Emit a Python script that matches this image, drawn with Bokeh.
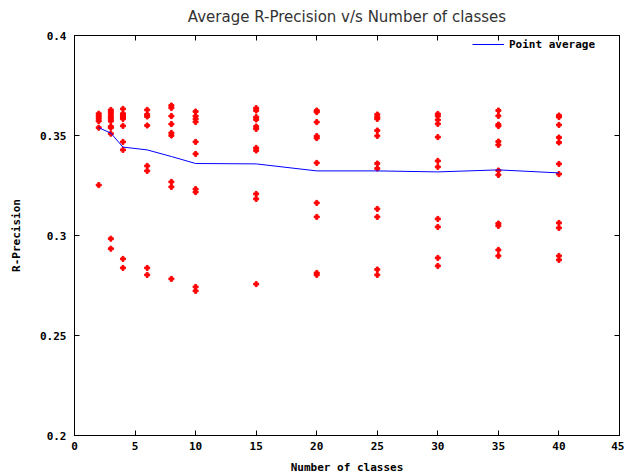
from bokeh.plotting import figure
from bokeh.models import LinearAxis, FixedTicker, Range1d, Legend, LegendItem
from bokeh.embed import file_html
from bokeh.resources import INLINE

# ---- data ----
classes = [2, 3, 4, 6, 8, 10, 15, 20, 25, 30, 35, 40]
rprec_2 = [0.3609, 0.3597, 0.3585, 0.3572, 0.3539, 0.3252]
rprec_3 = [0.3628, 0.3617, 0.3605, 0.3593, 0.3583, 0.3572, 0.3545, 0.3539, 0.3509, 0.2984, 0.2934]
rprec_4 = [0.3633, 0.3609, 0.3600, 0.3592, 0.3583, 0.3548, 0.3468, 0.3428, 0.2883, 0.2838]
rprec_6 = [0.3628, 0.3605, 0.3595, 0.3550, 0.3348, 0.3323, 0.2838, 0.2803]
rprec_8 = [0.3650, 0.3638, 0.3597, 0.3557, 0.3513, 0.3500, 0.3268, 0.3243, 0.2783]
rprec_10 = [0.3620, 0.3597, 0.3583, 0.3568, 0.3468, 0.3408, 0.3232, 0.3217, 0.2743, 0.2723]
rprec_15 = [0.3637, 0.3625, 0.3592, 0.3580, 0.3545, 0.3533, 0.3438, 0.3425, 0.3208, 0.3183, 0.2757]
rprec_20 = [0.3625, 0.3617, 0.3567, 0.3497, 0.3487, 0.3363, 0.3163, 0.3093, 0.2813, 0.2803]
rprec_25 = [0.3605, 0.3592, 0.3583, 0.3525, 0.3498, 0.3360, 0.3335, 0.3133, 0.3093, 0.2830, 0.2803]
rprec_30 = [0.3608, 0.3597, 0.3578, 0.3558, 0.3492, 0.3373, 0.3343, 0.3083, 0.3043, 0.2888, 0.2848]
rprec_35 = [0.3625, 0.3598, 0.3555, 0.3547, 0.3470, 0.3453, 0.3325, 0.3303, 0.3060, 0.3048, 0.2928, 0.2898]
rprec_40 = [0.3600, 0.3592, 0.3553, 0.3490, 0.3465, 0.3358, 0.3307, 0.3063, 0.3038, 0.2898, 0.2878]
point_average = [0.3539, 0.3512, 0.3442, 0.3428, 0.3395, 0.3360, 0.3358, 0.3323, 0.3323, 0.3318, 0.3328, 0.3313]

x_ticks = [0, 5, 10, 15, 20, 25, 30, 35, 40, 45]
y_ticks = [0.2, 0.25, 0.3, 0.35, 0.4]
y_tick_labels = ["0.2", "0.25", "0.3", "0.35", "0.4"]

all_runs = [rprec_2, rprec_3, rprec_4, rprec_6, rprec_8, rprec_10,
            rprec_15, rprec_20, rprec_25, rprec_30, rprec_35, rprec_40]
px, py = [], []
for c, vals in zip(classes, all_runs):
    for v in vals:
        px.append(c)
        py.append(v)

MONO = "DejaVu Sans Mono"

p = figure(frame_width=545, frame_height=400,
           min_border_left=74, min_border_right=5, min_border_top=35, min_border_bottom=41,
           x_range=Range1d(0, 45), y_range=Range1d(0.2, 0.4),
           output_backend="svg", toolbar_location=None,
           title="Average R-Precision v/s Number of classes")
p.title.align = "center"
p.title.vertical_align = "top"
p.title.text_font = "DejaVu Sans"
p.title.text_font_size = "15px"
p.title.text_font_style = "normal"
p.title.text_color = "#333333"
p.title.standoff = 15
p.grid.visible = False
p.outline_line_color = "black"
p.outline_line_width = 1
p.background_fill_color = "white"
p.border_fill_color = "white"

p.scatter(px, py, marker="plus", size=5, color="red")
avg = p.line(classes, point_average, line_color="blue", line_width=1)

legend = Legend(items=[LegendItem(label="Point average", renderers=[avg])],
                location=(398, 381), border_line_color=None, background_fill_alpha=0,
                label_text_font=MONO, label_text_font_style="bold", label_text_font_size="11px",
                label_text_color="black",
                glyph_width=32, margin=0, padding=2, spacing=0)
p.add_layout(legend)

def style(ax):
    ax.major_tick_in = 5
    ax.major_tick_out = 0
    ax.minor_tick_line_color = None
    ax.axis_line_color = "black"
    ax.major_tick_line_color = "black"
    ax.major_label_text_font = MONO
    ax.major_label_text_font_style = "bold"
    ax.major_label_text_font_size = "11px"
    ax.major_label_text_color = "black"
    ax.axis_label_text_font = MONO
    ax.axis_label_text_font_style = "bold"
    ax.axis_label_text_font_size = "11px"
    ax.axis_label_text_color = "black"

xa = p.xaxis[0]
xa.ticker = FixedTicker(ticks=x_ticks)
xa.axis_label = "Number of classes"
xa.major_label_standoff = 6
xa.axis_label_standoff = 8
style(xa)

ya = p.yaxis[0]
ya.ticker = FixedTicker(ticks=y_ticks)
ya.major_label_overrides = {t: l for t, l in zip(y_ticks, y_tick_labels)}
ya.axis_label = "R-Precision"
ya.major_label_standoff = 8
ya.axis_label_standoff = 14
style(ya)

top = LinearAxis(ticker=FixedTicker(ticks=x_ticks))
style(top)
top.major_label_overrides = {t: "" for t in x_ticks}
top.major_label_standoff = 0
p.add_layout(top, "above")
right = LinearAxis(ticker=FixedTicker(ticks=y_ticks))
style(right)
right.major_label_overrides = {t: "" for t in y_ticks}
right.major_label_standoff = 0
p.add_layout(right, "right")

open("out.html", "w").write(file_html(p, INLINE))
